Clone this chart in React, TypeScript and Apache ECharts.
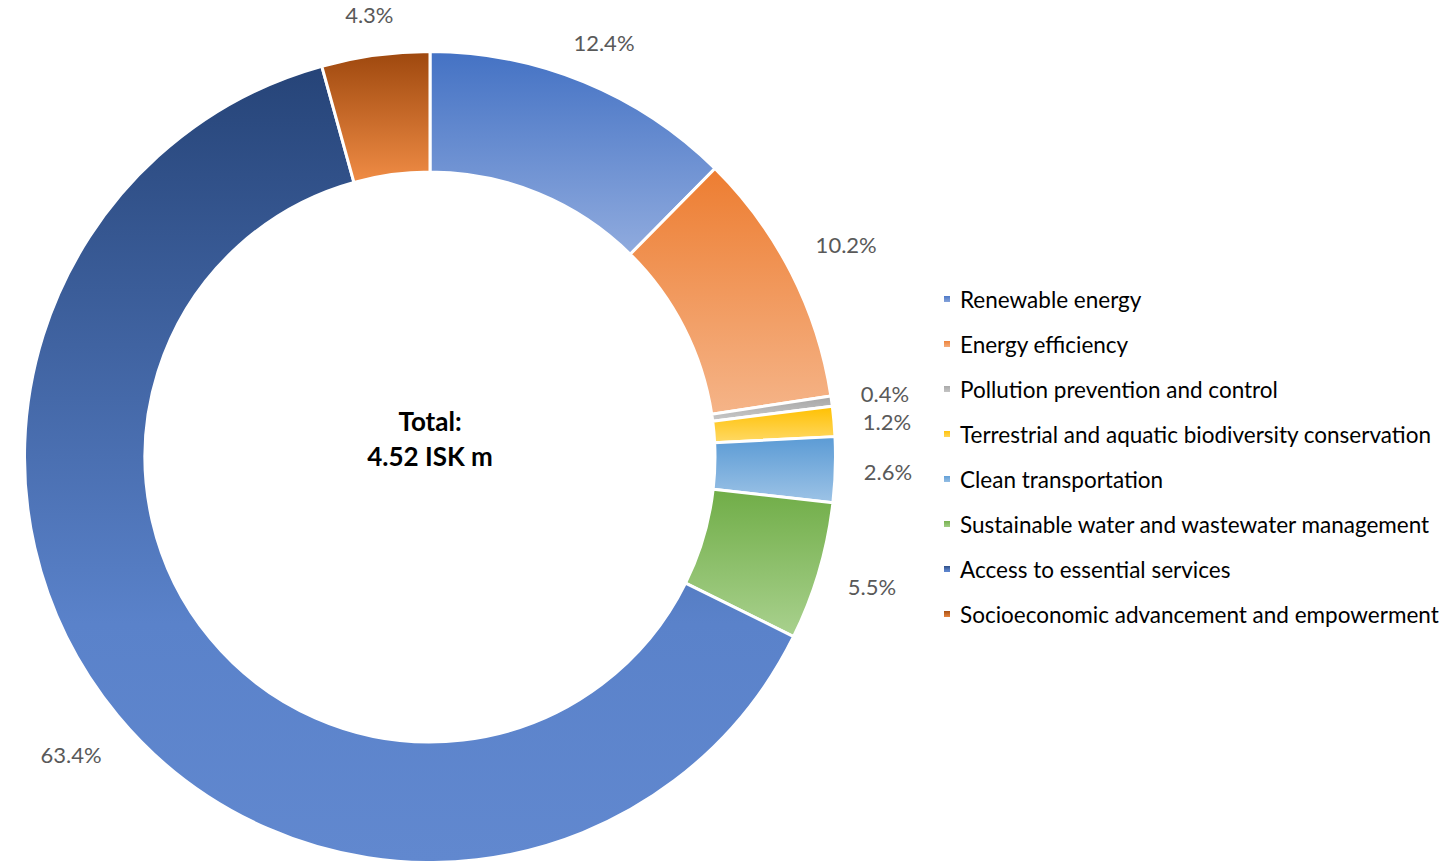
import React, { useEffect, useRef } from "react";
import * as echarts from "echarts";

const categories = [
  "Renewable energy",
  "Energy efficiency",
  "Pollution prevention and control",
  "Terrestrial and aquatic biodiversity conservation",
  "Clean transportation",
  "Sustainable water and wastewater management",
  "Access to essential services",
  "Socioeconomic advancement and empowerment",
];

const shares = [12.4, 10.2, 0.4, 1.2, 2.6, 5.5, 63.4, 4.3];

const gradientStops: [number, string][][] = [
  [[0, "#4472C4"], [1, "#90ABDE"]],
  [[0, "#ED7D31"], [1, "#F5B488"]],
  [[0, "#A5A5A5"], [1, "#C9C9C9"]],
  [[0, "#FFC000"], [1, "#FFD966"]],
  [[0, "#5B9BD5"], [1, "#9DC3E6"]],
  [[0, "#70AD47"], [1, "#A9D18E"]],
  [[0, "#264478"], [0.7, "#5A82CA"], [1, "#6188CF"]],
  [[0, "#9E480E"], [1, "#F08C45"]],
];

const centerText = "Total:\n4.52 ISK m";

const FONT = "Lato";

export default function App() {
  const ref = useRef<HTMLDivElement>(null);

  useEffect(() => {
    if (!ref.current) return;
    const chart = echarts.init(ref.current, undefined, { renderer: "svg" });
    const mainData = categories.map((name, i) => ({
      name,
      value: shares[i],
      itemStyle: {
        color: new echarts.graphic.LinearGradient(
          0,
          0,
          0,
          1,
          gradientStops[i].map(([offset, color]) => ({ offset, color }))
        ),
      },
    }));

    // Place each label box just outside the ring, centred on the radial
    // direction given by the library's own label-line points.
    const labelLayout = (params: any) => {
      const pts = params.labelLinePoints;
      const rect = params.labelRect;
      if (!pts || pts.length < 2 || !rect) return {};
      const dx = pts[1][0] - pts[0][0];
      const dy = pts[1][1] - pts[0][1];
      const len = Math.sqrt(dx * dx + dy * dy) || 1;
      const ux = dx / len;
      const uy = dy / len;
      const off = (rect.width / 2) * Math.abs(ux) + (rect.height / 2) * Math.abs(uy);
      return {
        x: pts[1][0] + ux * off,
        y: pts[1][1] + uy * off,
        align: "center",
        verticalAlign: "middle",
        moveOverlap: "shiftY",
      };
    };

    chart.setOption({
      animation: false,
      backgroundColor: "#ffffff",
      title: {
        text: centerText,
        left: 425,
        top: 433,
        textAlign: "center",
        textVerticalAlign: "middle",
        textStyle: {
          fontFamily: FONT,
          fontSize: 26,
          fontWeight: "bold",
          color: "#000000",
          lineHeight: 35,
        },
      },
      legend: {
        orient: "vertical",
        left: 937,
        top: 282,
        icon: "rect",
        itemWidth: 8,
        itemHeight: 8,
        itemGap: 21,
        selectedMode: false,
        data: categories,
        textStyle: {
          fontFamily: FONT,
          fontSize: 22.5,
          lineHeight: 24,
          color: "#000000",
          padding: [0, 0, 0, 4],
        },
      },
      series: [
        {
          type: "pie",
          center: [430, 457],
          radius: [285, 405.5],
          startAngle: 90,
          clockwise: true,
          avoidLabelOverlap: false,
          emphasis: { disabled: true },
          itemStyle: { borderColor: "#ffffff", borderWidth: 3 },
          label: {
            show: true,
            position: "outside",
            fontFamily: FONT,
            fontSize: 22,
            lineHeight: 28,
            color: "#595959",
            formatter: (p: any) => p.value.toFixed(1) + "%",
          },
          labelLine: {
            show: true,
            length: 28,
            length2: 0,
            lineStyle: { width: 0, opacity: 0 },
          },
          labelLayout,
          data: mainData,
        },
      ],
    });
    return () => chart.dispose();
  }, []);

  return (
    <div
      ref={ref}
      style={{ position: "fixed", left: 0, top: 0, width: 1444, height: 861 }}
    />
  );
}
